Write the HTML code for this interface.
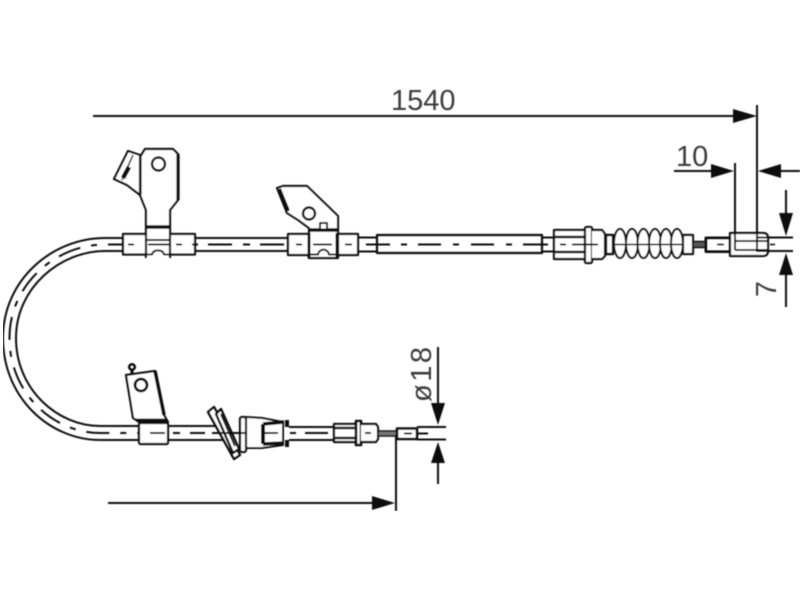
<!DOCTYPE html>
<html><head><meta charset="utf-8"><style>
html,body{margin:0;padding:0;background:#fff;width:800px;height:600px;overflow:hidden}
svg{display:block}
text{font-family:"Liberation Sans",sans-serif;fill:#3c3c3c;font-size:29px}
</style></head><body>
<svg width="800" height="600" viewBox="0 0 800 600" xmlns="http://www.w3.org/2000/svg">
<defs><filter id="b" x="0" y="0" width="100%" height="100%"><feGaussianBlur stdDeviation="0.5"/></filter></defs>
<g filter="url(#b)">
<g fill="none" stroke="#111" stroke-width="2" stroke-linejoin="round">
<!-- curved cable -->
<path d="M123 238H105C52 238 3 280 3 338C3 398 50 440 100 440H139"/>
<path d="M123 251H105C60 251 16 288 16 338C16 390 58 426 100 426H139"/>
<path d="M123 244.500H105C56 244.500 9.500 284 9.500 338C9.500 394 54 433 100 433H139" stroke-dasharray="23 11 6 11" stroke-dashoffset="8"/>
<!-- upper straight cable -->
<path d="M195 238H288M195 251H288M358 237.500H377M358 251.500H377M542 237.500H554M542 251.500H554"/>
<path d="M208 244.500H232M243 244.500H250M260 244.500H284" />
<rect x="377" y="235" width="165" height="18" stroke-width="2.200"/>
<path d="M366 244.500H390M401 244.500H407M418 244.500H441M453 244.500H459M471 244.500H494M506 244.500H512M523 244.500H548"/>
<!-- clamp 1 -->
<rect x="123" y="234" width="72" height="20.500" fill="#fff" stroke-width="2.200"/>
<path d="M146 258V210L140 195V157L145 149H173L178 154V200L170 210V258" fill="#fff" stroke-width="2.200"/>
<path d="M140 157V195" stroke-width="3.200"/>
<path d="M178 154V200" stroke-width="3.200"/>
<path d="M146 227H170" stroke-width="3.500"/>
<path d="M146 254.500H152C153 249 163 249 164 254.500H170"/>
<path d="M146 240H171"/>
<path d="M128 151L140 155L140 195L127 185L114 179Z" fill="#fff" stroke-width="2.200"/>
<path d="M133 155L122 180" stroke-width="1.500"/>
<path d="M123 178L129 167" stroke-width="4.500"/>
<circle cx="158.500" cy="164" r="6.500" stroke-width="2.400"/>
<path d="M128 244.500H134M148 244.500H170M176 244.500H182 M192 244.500H198" />
<!-- clamp 2 -->
<rect x="288" y="234" width="70" height="21" fill="#fff" stroke-width="2.200"/>
<path d="M277 188L283 186H307L338 216V258H309V228L298 220L287 213Z" fill="#fff" stroke-width="2.200"/>
<path d="M279 189L288 211" stroke-width="4"/>
<path d="M309 230H338" stroke-width="3.500"/>
<path d="M309 233V258M337 233V258" stroke-width="3"/>
<rect x="320" y="223" width="7" height="6.500" fill="#fff"/>
<circle cx="309" cy="213.500" r="6" stroke-width="2.400"/>
<path d="M309 254.500H318C319 248 328 248 329 254.500H338"/>
<path d="M296 244.500H302M313 244.500H332M345 244.500H352"/>
<!-- sleeve -->
<rect x="554" y="230" width="31" height="29" fill="#fff" stroke-width="2.200"/>
<path d="M554 237H585M554 252H585" stroke-width="2.600"/>
<rect x="585" y="227" width="7" height="36" rx="1.500" fill="#fff" stroke-width="2.200"/>
<path d="M592 230H602L605 234V256L602 259H592" fill="#fff" stroke-width="2.200"/>
<rect x="606" y="235" width="7" height="19" fill="#fff" stroke-width="2.400"/>
<path d="M560 244.500H566M572 244.500H598"/>
<!-- bellows -->
<g fill="#fff" stroke-width="2">
<ellipse cx="620" cy="243.500" rx="6" ry="14.500"/>
<ellipse cx="632" cy="243.500" rx="6" ry="14.500"/>
<ellipse cx="643.500" cy="243.500" rx="6" ry="14.500"/>
<ellipse cx="655" cy="243.500" rx="6" ry="14.500"/>
<ellipse cx="666" cy="243.500" rx="6" ry="14.500"/>
<ellipse cx="677" cy="243.500" rx="6" ry="14.500"/>
</g>
<path d="M613 244.500H683" stroke-width="1.500"/>
<rect x="683" y="235" width="10" height="19" fill="#fff" stroke-width="2.200"/>
<rect x="693" y="241.500" width="13" height="6" fill="#555" stroke-width="1.500"/>
<rect x="706" y="238" width="24" height="13.500" fill="#fff" stroke-width="3"/>
<path d="M717 244.500H724" stroke-width="2"/>
<path d="M730 233H763Q768 233 768 238V251Q768 256 763 256H730Z" fill="#fff" stroke-width="2.200"/>
<path d="M735 241H768M735 250H768" stroke-width="1.800"/>
<path d="M770 244.500H775" stroke-width="1.600"/>
<!-- lower cable -->
<path d="M168 426H218M168 440H232"/>
<path d="M173 433H180M190 433H205 M212 433H240"/>
<rect x="139" y="423" width="29" height="21" rx="1.500" fill="#fff" stroke-width="2.200"/>
<path d="M150 433H165"/>
<!-- bracket lower -->
<path d="M126 375L155 371L164 415L168 422H139L133 418Z" fill="#fff" stroke-width="2.200"/>
<path d="M155 371L164 415" stroke-width="3.500"/>
<path d="M136 420H167" stroke-width="2.800"/>
<circle cx="141" cy="385" r="6" stroke-width="2.800"/>
<path d="M132 374V369" stroke-width="3"/>
<circle cx="132" cy="367" r="2.800" stroke-width="2.500"/>
<!-- disc -->
<path d="M208 412L214 407L240 455L234 459Z" fill="#fff" stroke-width="2.400"/>
<path d="M216 414L221 409L239 449L233 453Z" fill="#fff" stroke-width="2.400"/>
<path d="M221 414L235 446" stroke-width="2"/>
<path d="M246 417L262 418L283 422V445L262 448H246Z" fill="#fff" stroke-width="2"/>
<rect x="240" y="417" width="6" height="35" rx="2" fill="#fff" stroke-width="2.200"/>
<path d="M263 424V444" stroke-width="4"/>
<path d="M263 424L284 422M263 444L284 443" stroke-width="3.500"/>
<path d="M287 420V427M287 440V447" stroke-width="4"/>
<path d="M265 433H278M218 433H246"/>
<!-- lower end -->
<path d="M289 427H334M289 440H334"/>
<path d="M290 433H296M305 433H328"/>
<rect x="334" y="424" width="22" height="18" fill="#fff" stroke-width="2.200"/>
<path d="M334 428H356M334 438H356" stroke-width="2.600"/>
<rect x="356" y="421" width="5" height="24" fill="#fff" stroke-width="2.600"/>
<path d="M361 424H376L378 427V439L376 442H361" fill="#fff" stroke-width="2.200"/>
<path d="M365 433H371"/>
<rect x="378" y="431" width="19" height="5" fill="#777" stroke-width="1.500"/>
<rect x="397" y="428.500" width="20" height="10.500" fill="#fff" stroke-width="2.600"/>
<path d="M404 433.500H412M417 433.500H428"/>
<!-- dimension lines -->
<g stroke-width="2">
<path d="M93 116H735"/>
<path d="M757 105V252"/>
<path d="M735 163V250"/>
<path d="M674 171H715"/>
<path d="M778 171H800"/>
<path d="M757 237.500H793M757 251H793"/>
<path d="M786 190V215"/>
<path d="M786 272V307"/>
<path d="M417 427H446M417 439.500H446"/>
<path d="M438 347V405"/>
<path d="M438 460V484"/>
<path d="M396 436V511"/>
<path d="M108 503H375"/>
</g>
</g>
<g fill="#111" stroke="none">
<path d="M757 116L733 109V123Z"/>
<path d="M734 171L711 164V178Z"/>
<path d="M758 171L781 164V178Z"/>
<path d="M786 236L779 213H793Z"/>
<path d="M786 253L779 275H793Z"/>
<path d="M438 425L431 403H445Z"/>
<path d="M438 442L431 463H445Z"/>
<path d="M395 503L372 496V510Z"/>
</g>
<text x="391" y="110">1540</text>
<text x="676" y="166">10</text>
<text transform="translate(776 289) rotate(-90)" text-anchor="middle">7</text>
<text transform="translate(431 402) rotate(-90)" textLength="55">ø18</text>
</g>
</svg>
</body></html>
